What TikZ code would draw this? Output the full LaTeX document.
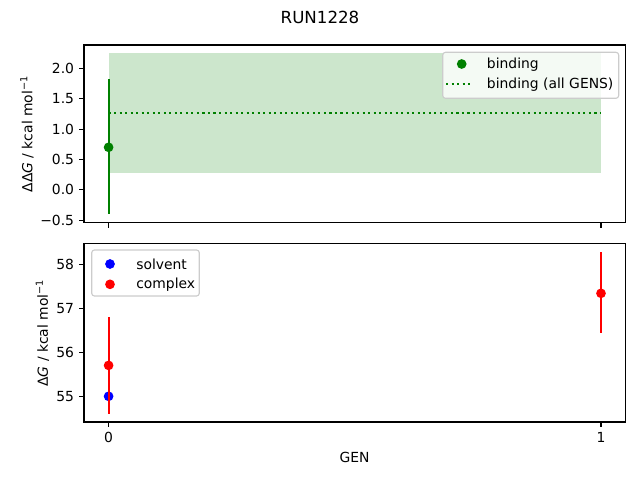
\documentclass[tikz,border=0pt]{standalone}
\usepackage{fontspec}
\setmainfont{DejaVu Sans}
\usetikzlibrary{positioning}
\definecolor{mplgreen}{HTML}{008000}
\definecolor{bandgreen}{HTML}{CCE6CC}
\definecolor{legendedge}{HTML}{CCCCCC}

\begin{document}
\begin{tikzpicture}[x=0.72pt,y=-0.72pt]

	\tikzstyle{axframe}=[draw=black,line width=0.8pt]
	\tikzstyle{tickmark}=[line width=0.8pt]
	\tikzstyle{ticklabel}=[font=\fontsize{10}{12}\selectfont,inner sep=0pt]
	\tikzstyle{marker}=[circle,minimum size=7pt,inner sep=0pt]
	\tikzstyle{errbar}=[line width=1.5pt]
	\tikzstyle{legendbox}=[draw=legendedge,fill=white,fill opacity=0.8,rounded corners=2pt,line width=0.8pt]
	\tikzstyle{legendtext}=[font=\fontsize{10}{12}\selectfont,inner sep=0pt,anchor=west]

	\useasboundingbox (0,0) rectangle (640,480);

	\node [font=\fontsize{12}{14}\selectfont] (title) at (320,17) {RUN1228};

	% top panel: binding free energy
	\fill [bandgreen] (108.6,53.3) rectangle (601,173.3);
	\draw [mplgreen,line width=1.5pt,dash pattern=on 1.5pt off 2.475pt] (108.6,112.7) -- (601,112.7);
	\draw [errbar,mplgreen] (108.6,79.3) -- (108.6,214.3);
	\node [marker,fill=mplgreen] (bind0) at (108.6,147.3) {};
	\draw [axframe] (84,45) rectangle (625.3,222.7);
	\foreach \v/\t in {-0.5/−0.5,0/0.0,0.5/0.5,1/1.0,1.5/1.5,2/2.0} {
		\pgfmathsetmacro\py{189.9-60.8*\v}
		\draw [tickmark] (84,\py) -- ++(-4.86,0);
		\node [ticklabel,anchor=east] at (74.3,\py) {\t};
	}
	\foreach \px in {108.6,601}
		\draw [tickmark] (\px,222.7) -- ++(0,4.86);
	\node [rotate=90,font=\fontsize{10}{12}\selectfont] (ylabtop) at (27,134)
		{ΔΔ\textit{G} / kcal mol\textsuperscript{−1}};

	\draw [legendbox] (442.7,52.3) rectangle (618.7,98.3);
	\node [marker,fill=mplgreen] (legbind) at (461.7,64) {};
	\node [legendtext] (legbindtxt) at (486.7,64.5) {binding};
	\coordinate (legdotA) at (446,84.3);
	\coordinate (legdotB) at (470,84.3);
	\draw [mplgreen,line width=1.5pt,dash pattern=on 1.5pt off 2.475pt] (legdotA) -- (legdotB);
	\node [legendtext] (legalltxt) at (486.7,84.8) {binding (all GENS)};

	% bottom panel: solvent and complex legs
	\node [marker,fill=blue] (solv0) at (108.6,396.3) {};
	\draw [errbar,red] (108.6,317) -- (108.6,413.7);
	\node [marker,fill=red] (cplx0) at (108.6,365.4) {};
	\draw [errbar,red] (601,252.3) -- (601,333.3);
	\node [marker,fill=red] (cplx1) at (601,293.3) {};
	\draw [axframe] (84,243.3) rectangle (625.3,422);
	\foreach \v in {55,56,57,58} {
		\pgfmathsetmacro\py{396.3-44*(\v-55)}
		\draw [tickmark] (84,\py) -- ++(-4.86,0);
		\node [ticklabel,anchor=east] at (74.3,\py) {\v};
	}
	\foreach \px/\t in {108.6/0,601/1} {
		\draw [tickmark] (\px,422) -- ++(0,4.86);
		\node [ticklabel,anchor=north] at (\px,431.7) {\t};
	}
	\node [rotate=90,font=\fontsize{10}{12}\selectfont] (ylabbot) at (42.5,333)
		{Δ\textit{G} / kcal mol\textsuperscript{−1}};
	\node [font=\fontsize{10}{12}\selectfont] (xlab) at (354.5,457) {GEN};

	\draw [legendbox] (91.7,250) rectangle (199.3,296);
	\node [marker,fill=blue] (legsolv) at (110,264) {};
	\node [legendtext] (legsolvtxt) at (136,264.5) {solvent};
	\node [marker,fill=red] (legcplx) at (110,284.3) {};
	\node [legendtext] (legcplxtxt) at (136,284.8) {complex};

\end{tikzpicture}
\end{document}
